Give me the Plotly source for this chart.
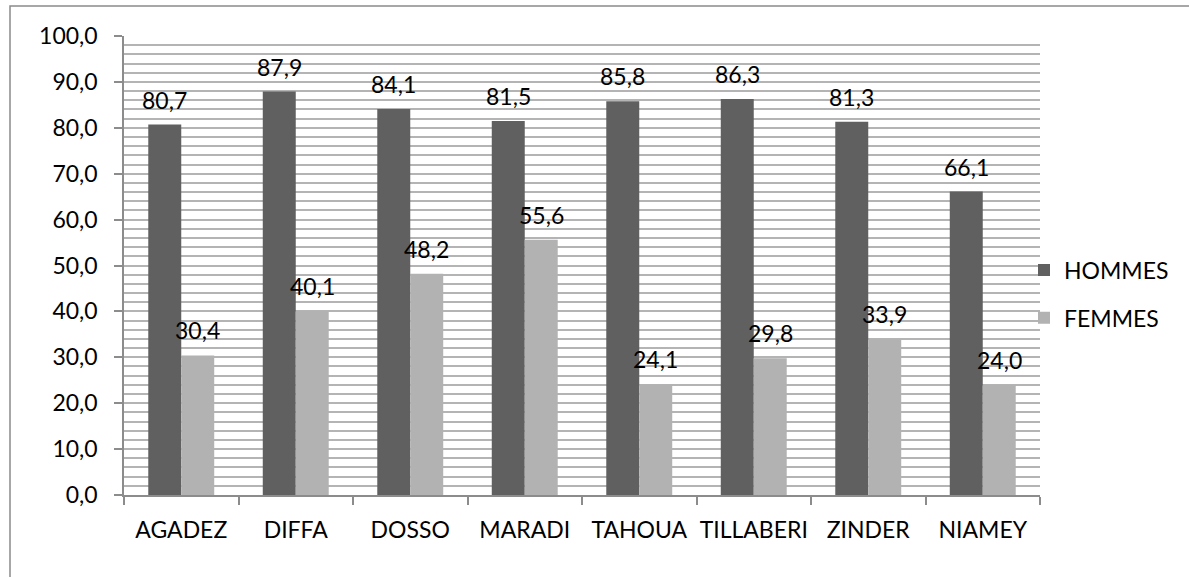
import plotly.graph_objects as go

REGIONS = ["AGADEZ", "DIFFA", "DOSSO", "MARADI", "TAHOUA", "TILLABERI", "ZINDER", "NIAMEY"]
HOMMES = [80.7, 87.9, 84.1, 81.5, 85.8, 86.3, 81.3, 66.1]
FEMMES = [30.4, 40.1, 48.2, 55.6, 24.1, 29.8, 33.9, 24.0]

COLOR_H = "#606060"
COLOR_F = "#b2b2b2"
GRID = "#b4b4b4"
AXIS = "#8c8c8c"
FONT = "Lato"
FS = 23

W, H = 1189, 577
L, R, T, B = 124, 149, 36, 82
PW, PH = W - L - R, H - T - B

BAR_OFFSET = 0.144  # half a bar, in category units


def fr(v):
    return f"{v:.1f}".replace(".", ",")


fig = go.Figure()
fig.add_trace(go.Bar(x=REGIONS, y=HOMMES, name="HOMMES", marker=dict(color=COLOR_H, line_width=0),
                     legendgroup="h"))
fig.add_trace(go.Bar(x=REGIONS, y=FEMMES, name="FEMMES", marker=dict(color=COLOR_F, line_width=0),
                     legendgroup="f"))

# value labels above each bar
for i, (h, f) in enumerate(zip(HOMMES, FEMMES)):
    for x, v in ((i - BAR_OFFSET, h), (i + BAR_OFFSET, f)):
        fig.add_annotation(x=x, y=v, text=fr(v), showarrow=False, xref="x", yref="y",
                           yanchor="middle", yshift=25,
                           font=dict(family=FONT, size=FS, color="black"))

# outer chart frame (runs past the right and bottom edge)
fig.add_shape(type="rect", xref="paper", yref="paper",
              x0=(10 - L) / PW, x1=(W + 10 - L) / PW,
              y0=(T + PH - (H + 10)) / PH, y1=(T + PH - 6) / PH,
              line=dict(color="#8a8a8a", width=1.5), fillcolor="rgba(0,0,0,0)", layer="below")

fig.update_layout(
    width=W, height=H,
    margin=dict(l=L, r=R, t=T, b=B, autoexpand=False),
    paper_bgcolor="white", plot_bgcolor="white",
    barmode="group", bargap=0.424, bargroupgap=0,
    separators=", ",
    font=dict(family=FONT, size=FS, color="black"),
    legend=dict(x=(1024 - L) / PW, xanchor="left", y=(T + PH - 294) / PH, yanchor="middle",
                traceorder="grouped", tracegroupgap=15, font=dict(family=FONT, size=FS),
                bgcolor="rgba(0,0,0,0)"),
    showlegend=True,
)
fig.update_xaxes(showline=True, linecolor=AXIS, linewidth=1.5, ticks="outside", tickson="boundaries",
                 ticklen=8, tickcolor=AXIS, tickwidth=1.5, showgrid=False, ticklabelstandoff=14,
                 tickangle=0, automargin=False, tickfont=dict(family=FONT, size=FS))
fig.update_yaxes(range=[0, 100], dtick=10, tickformat=".1f", showline=True, linecolor=AXIS, linewidth=1.5,
                 ticks="outside", ticklen=8, tickcolor=AXIS, tickwidth=1.5, ticklabelstandoff=12,
                 showgrid=True, gridcolor=GRID, gridwidth=1.5, zeroline=False, automargin=False,
                 minor=dict(dtick=2, showgrid=True, gridcolor=GRID, gridwidth=1.5),
                 tickfont=dict(family=FONT, size=FS))

fig.write_html("out.html", config={"displayModeBar": False},
               post_script="document.body.style.margin='0';")
